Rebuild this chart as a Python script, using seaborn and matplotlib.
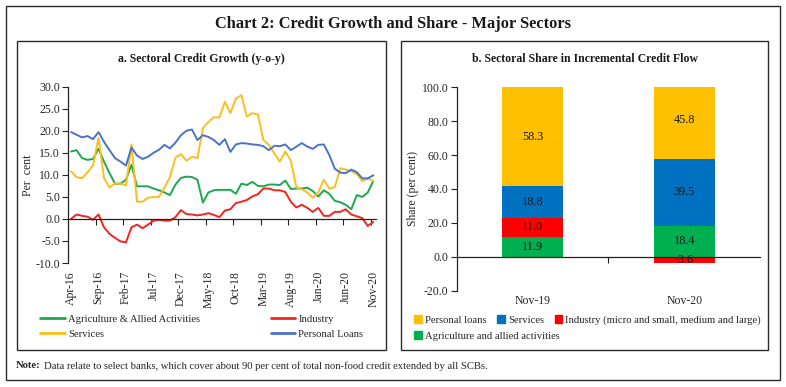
import pandas as pd
import numpy as np
import matplotlib
matplotlib.use('Agg')
import matplotlib.pyplot as plt
import seaborn as sns
from matplotlib.patches import Rectangle, Patch
from matplotlib.lines import Line2D

# data: panel a, y-o-y growth, monthly Apr-16 .. Nov-20
months = pd.date_range('2016-04-01', '2020-11-01', freq='MS').strftime('%b-%y').tolist()

agriculture = [15.3, 15.6, 13.8, 13.4, 13.6, 15.9, 13.0, 10.4, 8.0, 8.0,
               8.9, 12.3, 7.4, 7.4, 7.4, 6.9, 6.5, 6.0, 5.4, 7.8,
               9.3, 9.6, 9.5, 8.9, 3.7, 6.0, 6.5, 6.6, 6.6, 6.6,
               5.7, 8.0, 7.7, 8.4, 7.5, 7.4, 7.8, 7.8, 7.7, 8.7,
               6.8, 6.9, 6.9, 7.1, 6.3, 5.1, 6.5, 5.7, 4.1, 3.8,
               3.2, 2.2, 5.4, 5.0, 6.0, 8.6]
industry = [0.0, 1.0, 0.7, 0.5, -0.2, 1.0, -1.9, -3.4, -4.3, -5.1,
            -5.3, -1.9, -1.3, -2.1, -1.3, -0.4, -0.2, -0.4, -0.4, 0.4,
            2.0, 1.1, 1.0, 0.8, 1.0, 1.3, 0.9, 0.4, 1.9, 2.2,
            3.6, 3.9, 4.3, 5.1, 5.6, 6.9, 6.9, 6.5, 6.5, 6.1,
            3.9, 2.6, 3.2, 2.5, 1.6, 2.5, 0.7, 0.7, 1.6, 1.6,
            2.2, 1.0, 0.6, 0.2, -1.6, -0.7]
services = [10.8, 9.5, 9.2, 10.6, 12.1, 18.4, 9.3, 7.1, 8.1, 8.0,
            7.6, 16.9, 3.9, 3.9, 4.8, 5.0, 5.0, 7.1, 9.5, 13.9,
            14.7, 13.2, 14.1, 13.8, 20.6, 22.0, 23.1, 23.0, 26.6, 24.0,
            27.3, 28.1, 23.2, 24.0, 23.7, 17.9, 16.8, 14.9, 13.0, 15.3,
            13.2, 7.2, 6.7, 6.0, 4.8, 6.0, 8.9, 6.9, 7.2, 11.5,
            11.2, 10.8, 10.2, 8.6, 9.2, 8.6]
personal_loans = [19.7, 19.1, 18.5, 18.8, 18.1, 19.7, 17.5, 15.6, 13.8, 13.0,
                  12.1, 16.2, 14.4, 13.6, 14.1, 15.0, 15.7, 16.8, 16.0, 17.3,
                  19.0, 20.0, 20.3, 17.9, 19.0, 18.6, 17.9, 16.8, 18.1, 15.2,
                  16.9, 17.2, 17.1, 16.9, 16.8, 16.5, 15.6, 16.6, 16.5, 16.9,
                  15.6, 16.4, 17.2, 16.4, 15.9, 16.8, 16.9, 14.5, 11.4, 10.5,
                  10.4, 11.2, 10.6, 9.2, 9.2, 9.9]

line_names = ['Agriculture & Allied Activities', 'Industry', 'Services', 'Personal Loans']
line_colors = ['#1BA84E', '#F5231E', '#FBBE1E', '#4A72C8']

# data: panel b, share in incremental credit flow
periods = ['Nov-19', 'Nov-20']
share_agri = [11.9, 18.4]
share_industry = [11.0, -3.6]
share_services = [18.8, 39.5]
share_personal = [58.3, 45.8]

sns.set_theme(style='white')
plt.rcParams['font.family'] = ['Liberation Serif', 'DejaVu Serif']

W, H = 786, 387
fig = plt.figure(figsize=(W / 100, H / 100), dpi=100)


def fx(px):
    return px / W


def fy(py):
    return 1 - py / H


# frames
def box(x0, y0, x1, y1, lw=1.0):
    fig.add_artist(Rectangle((fx(x0), fy(y1)), fx(x1) - fx(x0), fy(y0) - fy(y1),
                             transform=fig.transFigure, fill=False, ec='#2b2b2b', lw=lw))


box(6, 6, 780, 380)
box(17, 41, 386, 350)
box(401, 41, 768, 350)

fig.text(fx(393), fy(24), 'Chart 2: Credit Growth and Share - Major Sectors',
         ha='center', va='center', fontsize=11.8, fontweight='bold', color='#1a1a1a')
fig.text(fx(201.5), fy(59), 'a. Sectoral Credit Growth (y-o-y)',
         ha='center', va='center', fontsize=8.5, fontweight='bold', color='#1a1a1a')
fig.text(fx(584.5), fy(59), 'b. Sectoral Share in Incremental Credit Flow',
         ha='center', va='center', fontsize=8.5, fontweight='bold', color='#1a1a1a')

TICK_FS = 8.5

# ---------- panel a ----------
ax1 = fig.add_axes([fx(68.3), fy(263), fx(376) - fx(68.3), fy(86.7) - fy(263)])
long = []
for name, vals in zip(line_names, [agriculture, industry, services, personal_loans]):
    long.append(pd.DataFrame({'idx': np.arange(len(months)), 'value': vals, 'sector': name}))
long = pd.concat(long)
sns.lineplot(data=long, x='idx', y='value', hue='sector', hue_order=line_names,
             palette=line_colors, linewidth=1.4, ax=ax1, legend=False)
ax1.set_xlim(-0.5, len(months) - 0.5)
ax1.set_ylim(-10, 30)
ax1.set_yticks(np.arange(-10, 31, 5))
ax1.set_yticklabels([f'{v:.1f}' for v in np.arange(-10, 31, 5)], fontsize=TICK_FS)
ax1.spines['bottom'].set_position(('data', 0))
ax1.spines['top'].set_visible(False)
ax1.spines['right'].set_visible(False)
for s in ['left', 'bottom']:
    ax1.spines[s].set_color('#222222')
    ax1.spines[s].set_linewidth(0.9)
ax1.set_xticks(np.arange(4.5, len(months), 5))
ax1.set_xticklabels([])
ax1.tick_params(axis='both', direction='out', length=4, width=0.8, color='#222222', left=True, bottom=True, pad=2)
ax1.set_xlabel('')
ax1.set_ylabel('Per  cent', fontsize=8.5)
ax1.yaxis.set_label_coords(-0.11, 0.5)
for i in range(0, len(months), 5):
    ax1.text(i, -11.8, months[i], rotation=90, ha='center', va='top', fontsize=TICK_FS)

handles = [Line2D([], [], color=c, lw=2) for c in line_colors]
order = [0, 2, 1, 3]
ax1.legend([handles[k] for k in order], [line_names[k] for k in order], ncol=2,
           loc='upper left', bbox_to_anchor=(fx(36), fy(310)), bbox_transform=fig.transFigure,
           frameon=False, fontsize=7.7, handlelength=2.3, handletextpad=0.3,
           columnspacing=6.6, labelspacing=0.5, borderaxespad=0)

# ---------- panel b ----------
ax2 = fig.add_axes([fx(456.7), fy(290.6), fx(760) - fx(456.7), fy(87.3) - fy(290.6)])
xb = np.arange(len(periods))
pos_base = np.zeros(len(periods))
neg_base = np.zeros(len(periods))
bar_colors = {'agri': '#00B050', 'ind': '#FF0000', 'serv': '#0070C0', 'pers': '#FFC000'}
for key, vals in [('agri', share_agri), ('ind', share_industry),
                  ('serv', share_services), ('pers', share_personal)]:
    vals = np.array(vals)
    bottoms = np.where(vals >= 0, pos_base, neg_base)
    ax2.bar(xb, vals, width=0.4, bottom=bottoms, color=bar_colors[key], edgecolor='none')
    for x, v, b in zip(xb, vals, bottoms):
        ax2.text(x, b + v / 2, f'{v:.1f}', ha='center', va='center', fontsize=8.8, color='#1a1a1a')
    pos_base = pos_base + np.where(vals >= 0, vals, 0)
    neg_base = neg_base + np.where(vals < 0, vals, 0)

ax2.set_xlim(-0.5, len(periods) - 0.5)
ax2.set_ylim(-20, 100)
ax2.set_yticks(np.arange(-20, 101, 20))
ax2.set_yticklabels([f'{v:.1f}' for v in np.arange(-20, 101, 20)], fontsize=TICK_FS)
ax2.spines['bottom'].set_position(('data', 0))
ax2.spines['top'].set_visible(False)
ax2.spines['right'].set_visible(False)
for s in ['left', 'bottom']:
    ax2.spines[s].set_color('#222222')
    ax2.spines[s].set_linewidth(0.9)
ax2.set_xticks([0.5])
ax2.set_xticklabels([])
ax2.tick_params(axis='both', direction='out', length=4, width=0.8, color='#222222', left=True, bottom=True, pad=2)
ax2.set_ylabel('Share (per cent)', fontsize=8.5)
ax2.yaxis.set_label_coords(-0.125, 0.5)
for x, p in zip(xb, periods):
    ax2.text(x, -22.5, p, ha='center', va='top', fontsize=TICK_FS)

sq = dict(handlelength=0.7, handleheight=0.7, handletextpad=0.3, frameon=False, fontsize=7.7,
          borderaxespad=0, bbox_transform=fig.transFigure, loc='upper left')
leg_a = ax2.legend([Patch(color=bar_colors['pers']), Patch(color=bar_colors['serv']), Patch(color=bar_colors['ind'])],
                   ['Personal loans', 'Services', 'Industry (micro and small, medium and large)'],
                   ncol=3, columnspacing=1.0, bbox_to_anchor=(fx(410), fy(311)), **sq)
ax2.add_artist(leg_a)
ax2.legend([Patch(color=bar_colors['agri'])], ['Agriculture and allied activities'],
           bbox_to_anchor=(fx(410), fy(327)), **sq)

# note
fig.text(fx(16), fy(366), 'Note:', fontsize=7.7, fontweight='bold', va='center')
fig.text(fx(44), fy(366), 'Data relate to select banks, which cover about 90 per cent of total non-food credit extended by all SCBs.',
         fontsize=7.7, va='center')

fig.savefig('out.png', dpi=100)
